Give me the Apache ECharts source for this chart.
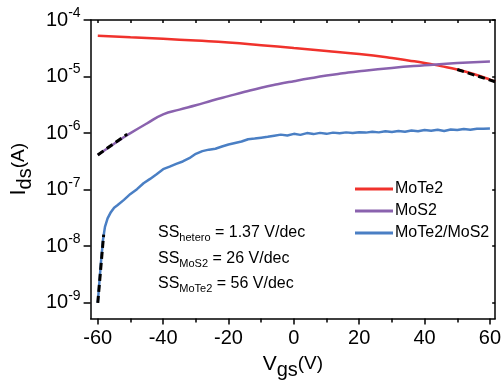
<!DOCTYPE html>
<html>
<head>
<meta charset="utf-8">
<script src="https://cdn.jsdelivr.net/npm/echarts@6/dist/echarts.min.js"></script>
<style>
    html, body { margin: 0; padding: 0; background: #fff; }
    #transfer_chart { width: 504px; height: 385px; }
</style>
</head>
<body>
<div id="transfer_chart"></div>
<script>
const FONT = "Liberation Sans";

// gate voltage (V) / drain current (A)
const mote2Vgs = [-60, -50, -40, -30, -20, -10, 0, 10, 20, 30, 35, 40, 45, 50, 55, 60, 61.6];
const mote2Ids = [5.24e-5, 4.93e-5, 4.65e-5, 4.32e-5, 4.0e-5, 3.59e-5, 3.19e-5, 2.84e-5, 2.5e-5,
    2.13e-5, 1.93e-5, 1.74e-5, 1.53e-5, 1.33e-5, 1.11e-5, 8.85e-6, 8.1e-6];

const mos2Vgs = [-60, -57, -55, -52.5, -50, -45, -40, -35, -30, -25, -20, -15, -10, -5, 0, 5, 10,
    15, 20, 30, 40, 50, 60];
const mos2Ids = [4.11e-7, 5.4e-7, 6.5e-7, 8.1e-7, 1.0e-6, 1.48e-6, 2.15e-6, 2.6e-6, 3.1e-6, 3.76e-6,
    4.5e-6, 5.37e-6, 6.34e-6, 7.3e-6, 8.28e-6, 9.33e-6, 1.04e-5, 1.14e-5, 1.24e-5, 1.42e-5, 1.58e-5,
    1.74e-5, 1.85e-5];

const heteroVgs = [-60, -59.6, -59, -58.4, -57.8, -57, -56, -55, -54, -52, -50, -48, -46, -44, -42,
    -40, -38, -36, -34, -32, -30, -28, -26, -24, -22, -20, -18, -16, -14, -12, -10, -8, -6, -4, -2,
    0, 2, 4, 6, 8, 10, 12, 14, 16, 18, 20, 22, 24, 26, 28, 30, 32, 34, 36, 38, 40, 42, 44, 46, 48,
    50, 52, 54, 56, 58, 60];
const heteroIds = [1.0e-9, 2.0e-9, 5.4e-9, 1.3e-8, 2.2e-8, 3.1e-8, 4.0e-8, 4.8e-8, 5.3e-8, 6.6e-8,
    8.4e-8, 1.02e-7, 1.3e-7, 1.55e-7, 1.88e-7, 2.3e-7, 2.55e-7, 2.85e-7, 3.15e-7, 3.6e-7, 4.3e-7,
    4.8e-7, 5.1e-7, 5.3e-7, 5.8e-7, 6.3e-7, 6.7e-7, 7.1e-7, 7.8e-7, 8.0e-7, 8.3e-7, 8.6e-7, 9.0e-7,
    9.4e-7, 9.1e-7, 9.7e-7, 9.3e-7, 1.0e-6, 9.6e-7, 1.01e-6, 9.7e-7, 1.02e-6, 9.9e-7, 1.03e-6,
    1.0e-6, 1.04e-6, 1.02e-6, 1.06e-6, 1.03e-6, 1.08e-6, 1.05e-6, 1.09e-6, 1.06e-6, 1.11e-6,
    1.08e-6, 1.13e-6, 1.1e-6, 1.15e-6, 1.09e-6, 1.16e-6, 1.13e-6, 1.18e-6, 1.15e-6, 1.19e-6,
    1.2e-6, 1.21e-6];

// subthreshold fits (dashed)
const fitHeteroVgs = [-60, -58.2];
const fitHeteroIds = [1.0e-9, 1.6e-8];
const fitMos2Vgs = [-60, -51];
const fitMos2Ids = [4.11e-7, 9.6e-7];
const fitMote2Vgs = [50, 61.6];
const fitMote2Ids = [1.33e-5, 8.1e-6];

const xTicks = [-60, -40, -20, 0, 20, 40, 60];
const xMinorTicks = [-50, -30, -10, 10, 30, 50];
const xAllTicks = [-60, -50, -40, -30, -20, -10, 0, 10, 20, 30, 40, 50, 60];
const yDecades = [-9, -8, -7, -6, -5, -4];

const toPoints = (xs, ys) => xs.map((x, i) => [x, Math.log10(ys[i])]);

const lineSeries = (name, xs, ys, color, smooth) => ({
    name,
    type: "line",
    data: toPoints(xs, ys),
    showSymbol: false,
    smooth,
    color,
    lineStyle: { color, width: 2.5 },
    z: 2
});

const fitSeries = (xs, ys) => ({
    type: "line",
    data: toPoints(xs, ys),
    showSymbol: false,
    lineStyle: { color: "#000", width: 3, type: [7, 4] },
    z: 3
});

const chart = echarts.init(document.getElementById("transfer_chart"));

const supLabel = (v) => `{b|10}{s|${v}}`;

const ssText = (sub, rest) => `{m|SS}{s|${sub}}{m| = ${rest}}`;
const ssRich = {
    m: { fontFamily: FONT, fontSize: 16, color: "#000" },
    s: { fontFamily: FONT, fontSize: 11, color: "#000", padding: [9, 0, 0, 0] }
};

const axisLine = { onZero: false, lineStyle: { color: "#000", width: 1.5 } };
const tickStyle = { color: "#000", width: 1.5 };

const option = {
    animation: false,
    textStyle: { fontFamily: FONT },
    grid: { left: 86, right: 7, top: 20, bottom: 64 },
    legend: {
        data: ["MoTe2", "MoS2", "MoTe2/MoS2"],
        orient: "vertical",
        left: 350,
        top: 176,
        icon: "rect",
        itemWidth: 38,
        itemHeight: 3,
        itemGap: 6,
        textStyle: { fontFamily: FONT, fontSize: 16, color: "#000", padding: [0, 0, 0, -3] }
    },
    xAxis: [
        {
            type: "value", position: "bottom", min: -62.2, max: 61.6,
            name: "{v|V}{sub|gs}{p|(V)}", nameLocation: "middle", nameGap: 28,
            nameTextStyle: {
                rich: {
                    v: { fontFamily: FONT, fontSize: 21, color: "#000" },
                    sub: { fontFamily: FONT, fontSize: 20, color: "#000", padding: [12, 0, 0, 0] },
                    p: { fontFamily: FONT, fontSize: 19, color: "#000" }
                }
            },
            axisLine,
            axisTick: { customValues: xTicks, length: 6, lineStyle: tickStyle },
            axisLabel: { customValues: xTicks, fontSize: 20, color: "#000", margin: 10, fontFamily: FONT },
            splitLine: { show: false }
        },
        {
            type: "value", position: "bottom", min: -62.2, max: 61.6,
            axisLine: { show: false, onZero: false },
            axisTick: { customValues: xMinorTicks, length: 4, lineStyle: tickStyle },
            axisLabel: { show: false },
            splitLine: { show: false }
        },
        {
            type: "value", position: "top", min: -62.2, max: 61.6,
            axisLine,
            axisTick: { customValues: xAllTicks, inside: true, length: 3, lineStyle: tickStyle },
            axisLabel: { show: false },
            splitLine: { show: false }
        }
    ],
    yAxis: [
        {
            type: "value", position: "left", min: -9.28, max: -4,
            name: "{i|I}{sub|ds}{p|(A)}", nameLocation: "middle", nameRotate: 90, nameGap: 47,
            nameTextStyle: {
                rich: {
                    i: { fontFamily: FONT, fontSize: 22, color: "#000" },
                    sub: { fontFamily: FONT, fontSize: 20, color: "#000", padding: [12, 0, 0, 0] },
                    p: { fontFamily: FONT, fontSize: 19, color: "#000" }
                }
            },
            axisLine,
            axisTick: { customValues: yDecades, length: 7, lineStyle: tickStyle },
            axisLabel: {
                customValues: yDecades,
                margin: 10,
                formatter: supLabel,
                rich: {
                    b: { fontFamily: FONT, fontSize: 20, color: "#000" },
                    s: { fontFamily: FONT, fontSize: 14, color: "#000", padding: [0, 0, 14, 0] }
                }
            },
            splitLine: { show: false }
        },
        {
            type: "value", position: "right", min: -9.28, max: -4,
            axisLine,
            axisTick: { customValues: yDecades, inside: true, length: 3, lineStyle: tickStyle },
            axisLabel: { show: false },
            splitLine: { show: false }
        }
    ],
    graphic: [
        { type: "text", x: 158, y: 233, style: { text: ssText("hetero", "1.37 V/dec"), rich: ssRich, verticalAlign: "middle" } },
        { type: "text", x: 158, y: 259, style: { text: ssText("MoS2", "26 V/dec"), rich: ssRich, verticalAlign: "middle" } },
        { type: "text", x: 158, y: 284, style: { text: ssText("MoTe2", "56 V/dec"), rich: ssRich, verticalAlign: "middle" } }
    ],
    series: [
        lineSeries("MoTe2", mote2Vgs, mote2Ids, "#f0322c", true),
        lineSeries("MoS2", mos2Vgs, mos2Ids, "#8a62ae", true),
        lineSeries("MoTe2/MoS2", heteroVgs, heteroIds, "#4a7fc4", false),
        fitSeries(fitHeteroVgs, fitHeteroIds),
        fitSeries(fitMos2Vgs, fitMos2Ids),
        fitSeries(fitMote2Vgs, fitMote2Ids)
    ]
};

chart.setOption(option);
</script>
</body>
</html>
